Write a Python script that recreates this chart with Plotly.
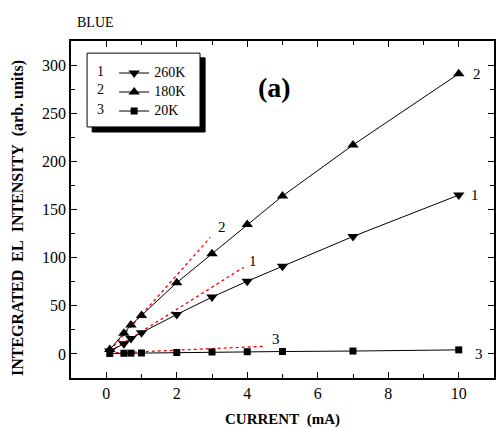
import plotly.graph_objects as go

# ---- data ----
current = [0.1, 0.5, 0.7, 1, 2, 3, 4, 5, 7, 10]
i_260K = [3, 10.5, 16, 22, 41, 59, 75.5, 91, 122, 165]
i_180K = [4.5, 21.5, 30, 40, 74, 104, 134.5, 164, 217, 291]
i_20K = [0.5, 0.7, 0.8, 1.0, 1.5, 2.0, 2.3, 2.5, 3.0, 4.2]

fit1_x = [0.1, 3.9]
fit1_y = [2.5, 90]
fit2_x = [0.1, 2.95]
fit2_y = [3.5, 121]
fit3_x = [0.1, 4.45]
fit3_y = [0.8, 7.9]

series_names = ["260K", "180K", "20K"]
series_ids = ["1", "2", "3"]

FONT = "Liberation Serif, Times New Roman, serif"

fig = go.Figure()

# fitted (linear) dotted red lines
for fx, fy in [(fit1_x, fit1_y), (fit2_x, fit2_y), (fit3_x, fit3_y)]:
    fig.add_trace(go.Scatter(x=fx, y=fy, mode="lines", showlegend=False,
                             line=dict(color="red", width=1.3, dash="dot"),
                             hoverinfo="skip"))

symbols = ["triangle-down", "triangle-up", "square"]
sizes = [10, 10, 7]
for ys, name, sym, sz in zip([i_260K, i_180K, i_20K], series_names, symbols, sizes):
    fig.add_trace(go.Scatter(x=current, y=ys, mode="lines+markers",
                             name='<span style="font-size:14px">' + name + '</span>',
                             line=dict(color="black", width=1),
                             marker=dict(symbol=sym, size=sz, color="black")))

# curve labels
labels = [
    (10.35, 291, "2"), (10.3, 165, "1"), (10.4, 0, "3"),
    (3.12, 132, "2"), (4.0, 96, "1"), (4.65, 16, "3"),
]
annotations = []
for lx, ly, lt in labels:
    annotations.append(dict(x=lx, y=ly, xref="x", yref="y", text=lt, showarrow=False,
                            xanchor="left", yanchor="middle",
                            font=dict(family=FONT, size=15, color="black")))

# legend numbers
for yy, t in zip([0.909, 0.855, 0.798], series_ids):
    annotations.append(dict(x=0.07, y=yy, xref="paper", yref="paper", text=t,
                            showarrow=False, xanchor="center", yanchor="middle",
                            font=dict(family=FONT, size=14, color="black")))

annotations.append(dict(x=0.482, y=0.863, xref="paper", yref="paper", text="<b>(a)</b>",
                        showarrow=False, xanchor="center", yanchor="middle",
                        font=dict(family=FONT, size=28, color="black")))
annotations.append(dict(x=0.01, y=1.056, xref="paper", yref="paper", text="BLUE",
                        showarrow=False, xanchor="left", yanchor="middle",
                        font=dict(family=FONT, size=14, color="black")))
# y-axis title
annotations.append(dict(x=-0.125, y=0.475, xref="paper", yref="paper",
                        text="<b>INTEGRATED\u00a0\u00a0EL\u00a0\u00a0INTENSITY\u00a0\u00a0(arb. units)</b>",
                        textangle=-90, showarrow=False, xanchor="center", yanchor="middle",
                        font=dict(family=FONT, size=16, color="black")))

shapes = [
    dict(type="rect", xref="paper", yref="paper", x0=0.050, x1=0.317, y0=0.730, y1=0.950,
         fillcolor="black", line=dict(color="black", width=1), layer="above"),
    dict(type="rect", xref="paper", yref="paper", x0=0.038, x1=0.305, y0=0.745, y1=0.964,
         fillcolor="white", line=dict(color="black", width=1), layer="above"),
]

axis_common = dict(showgrid=False, zeroline=False, showline=True, linecolor="black",
                   linewidth=1.6, mirror="ticks", ticks="inside", ticklen=6,
                   tickwidth=1, tickcolor="black", automargin=False,
                   tickfont=dict(family=FONT, size=16, color="black"))

fig.update_layout(
    width=496, height=428,
    margin=dict(l=71, r=2, t=41, b=50),
    paper_bgcolor="white", plot_bgcolor="white",
    font=dict(family=FONT, color="black"),
    xaxis=dict(range=[-1, 11], dtick=2, tick0=0,
               minor=dict(dtick=1, ticks="inside", ticklen=4, tickcolor="black"),
               title=dict(text="<b>CURRENT\u00a0\u00a0(mA)</b>", standoff=13,
                          font=dict(family=FONT, size=15, color="black")),
               **axis_common),
    yaxis=dict(range=[-25, 325], dtick=50, tick0=0,
               minor=dict(dtick=25, ticks="inside", ticklen=4, tickcolor="black"),
               **axis_common),
    legend=dict(x=0.102, y=0.948, xanchor="left", yanchor="top",
                bgcolor="rgba(0,0,0,0)", borderwidth=0,
                font=dict(family=FONT, size=11, color="black"),
                tracegroupgap=0),
    shapes=shapes,
    annotations=annotations,
)

fig.write_html("out.html", config={"displayModeBar": False},
               post_script="document.body.style.margin='0';")
